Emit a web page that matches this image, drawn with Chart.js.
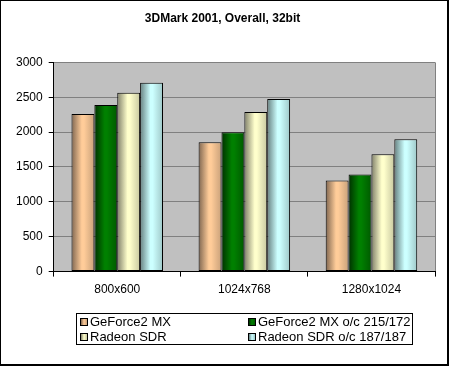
<!DOCTYPE html>
<html>
<head>
<meta charset="utf-8">
<script src="https://cdn.jsdelivr.net/npm/chart.js@4/dist/chart.umd.min.js"></script>
<style>
  body { margin: 0; background: #fff; }
  #wrap { position: relative; width: 449px; height: 366px; box-sizing: border-box;
          border-left: 1px solid #000; border-top: 1px solid #000;
          border-right: 2px solid #000; border-bottom: 2px solid #000; overflow: hidden; }
  canvas { position: absolute; left: -1px; top: -1px; }
  #legend { position: absolute; left: 75px; top: 312px; width: 335px; height: 30px;
            border: 1px solid #000; font: 13px "Liberation Sans", Arial, sans-serif; color: #000; }
  .item { position: absolute; white-space: nowrap; line-height: 15px; }
  .sw { display: inline-block; width: 6px; height: 6px; border: 1px solid #000;
        margin-right: 2px; vertical-align: 0px; }
</style>
</head>
<body>
<div id="wrap">
  <canvas id="chart" width="449" height="366"></canvas>
  <div id="legend"></div>
</div>
<script>
const categories = ['800x600', '1024x768', '1280x1024'];
const seriesNames = ['GeForce2 MX', 'GeForce2 MX o/c 215/172', 'Radeon SDR', 'Radeon SDR o/c 187/187'];
const geforce = [2260, 1856, 1308];
const geforceOc = [2390, 2000, 1394];
const radeon = [2563, 2289, 1683];
const radeonOc = [2707, 2476, 1899];
const seriesColors = [
  { base: '#FFCC99', dark: '#7F6650', mid: '#C9A17A' },
  { base: '#008000', dark: '#003000', mid: '#005A00' },
  { base: '#FFFFCC', dark: '#80806A', mid: '#C8C8A0' },
  { base: '#CCFFFF', dark: '#668080', mid: '#9FC8C8' },
];
const catPct = 0.72;

function barFill(ctx) {
  const c = seriesColors[ctx.datasetIndex];
  if (ctx.type !== 'data') return c.base;
  const xs = ctx.chart.scales.x;
  if (!xs || !xs.width) return c.base;
  const catW = xs.width / categories.length;
  const barW = catW * catPct / 4;
  const center = xs.getPixelForValue(ctx.dataIndex) + (ctx.datasetIndex - 1.5) * barW;
  const g = ctx.chart.ctx.createLinearGradient(center - barW / 2, 0, center + barW / 2, 0);
  g.addColorStop(0, c.dark);
  g.addColorStop(0.45, c.base);
  g.addColorStop(0.55, c.base);
  g.addColorStop(1, c.mid);
  return g;
}

const plotBg = {
  id: 'plotBg',
  beforeDraw(chart) {
    const { ctx, chartArea: a } = chart;
    ctx.save();
    ctx.fillStyle = '#C0C0C0';
    ctx.fillRect(a.left, a.top, a.right - a.left, a.bottom - a.top);
    ctx.strokeStyle = '#808080';
    ctx.lineWidth = 1;
    ctx.beginPath();
    ctx.moveTo(a.right + 0.5, a.top);
    ctx.lineTo(a.right + 0.5, a.bottom);
    ctx.stroke();
    ctx.restore();
  }
};

const values = [geforce, geforceOc, radeon, radeonOc];
const font = { family: '"Liberation Sans", Arial, sans-serif', size: 12 };

new Chart(document.getElementById('chart'), {
  type: 'bar',
  data: {
    labels: categories,
    datasets: seriesNames.map((name, i) => ({
      label: name,
      data: values[i],
      backgroundColor: barFill,
      borderColor: '#000',
      borderWidth: 1,
      borderSkipped: false,
      barPercentage: 1,
      categoryPercentage: catPct,
    })),
  },
  options: {
    responsive: false,
    animation: false,
    layout: { padding: { left: 10, right: 14, top: 0, bottom: 63 } },
    plugins: {
      legend: { display: false },
      tooltip: { enabled: false },
      title: {
        display: true,
        text: '3DMark 2001, Overall, 32bit',
        color: '#000',
        font: { family: font.family, size: 12, weight: 'bold' },
        padding: { top: 11, bottom: 37 },
      },
    },
    scales: {
      x: {
        grid: { offset: true, drawOnChartArea: false, tickLength: 5, tickColor: '#000' },
        border: { color: '#000' },
        ticks: { color: '#000', font, padding: 6, maxRotation: 0 },
      },
      y: {
        min: 0,
        max: 3000,
        grid: { color: '#808080', tickLength: 5, tickColor: '#000' },
        border: { color: '#000' },
        ticks: { color: '#000', font, stepSize: 500, padding: 6, callback: v => String(v) },
      },
    },
  },
  plugins: [plotBg],
});

const legend = document.getElementById('legend');
seriesNames.forEach((name, i) => {
  const c = seriesColors[i];
  const el = document.createElement('div');
  el.className = 'item';
  el.style.left = (i % 2 === 0 ? 3 : 171) + 'px';
  el.style.top = (i < 2 ? 0 : 15) + 'px';
  el.innerHTML = '<span class="sw" style="background:linear-gradient(90deg,' + c.dark + ',' + c.base + ' 50%,' + c.mid + ')"></span>';
  el.appendChild(document.createTextNode(name));
  legend.appendChild(el);
});
</script>
</body>
</html>
